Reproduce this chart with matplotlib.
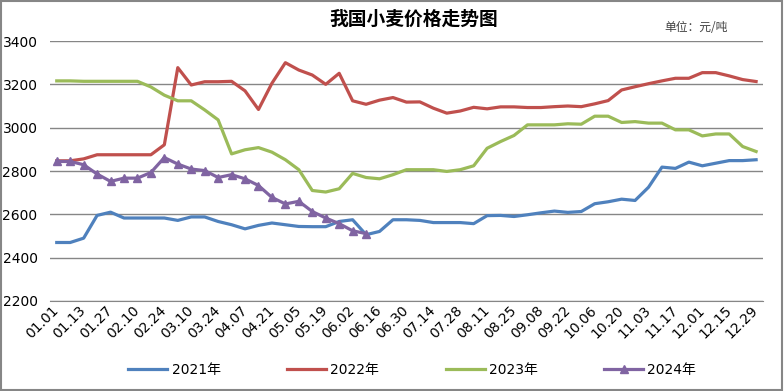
import matplotlib
matplotlib.use('Agg')
import matplotlib.pyplot as plt
from matplotlib.patches import Rectangle

plt.rcParams['font.family'] = ['DejaVu Sans', 'Noto Sans CJK SC']

tick_labels = ['01.01', '01.13', '01.27', '02.10', '02.24', '03.10', '03.24', '04.07', '04.21',
               '05.05', '05.19', '06.02', '06.16', '06.30', '07.14', '07.28', '08.11', '08.25',
               '09.08', '09.22', '10.06', '10.20', '11.03', '11.17', '12.01', '12.15', '12.29']

y2021 = [2470, 2470, 2490, 2595, 2610, 2583, 2583, 2583, 2583, 2572, 2588, 2588, 2567, 2552,
         2533, 2549, 2560, 2552, 2544, 2543, 2543, 2567, 2575, 2506, 2521, 2575, 2575, 2572,
         2562, 2562, 2562, 2557, 2594, 2595, 2590, 2598, 2607, 2615, 2609, 2613, 2649, 2658,
         2670, 2664, 2725, 2818, 2812, 2841, 2824, 2836, 2848, 2848, 2852]
y2022 = [2847, 2847, 2856, 2875, 2875, 2875, 2875, 2875, 2921, 3277, 3197, 3212, 3212, 3214,
         3170, 3084, 3205, 3300, 3266, 3243, 3200, 3251, 3124, 3108, 3127, 3139, 3118, 3119,
         3090, 3067, 3077, 3094, 3087, 3096, 3096, 3093, 3093, 3097, 3100, 3097, 3110, 3125,
         3174, 3189, 3203, 3216, 3228, 3228, 3254, 3254, 3239, 3222, 3213]
y2023 = [3216, 3216, 3214, 3214, 3214, 3214, 3214, 3188, 3150, 3124, 3124, 3082, 3036, 2879,
         2898, 2908, 2887, 2852, 2806, 2710, 2703, 2718, 2789, 2770, 2764, 2783, 2806, 2806,
         2806, 2798, 2806, 2824, 2905, 2936, 2964, 3013, 3013, 3013, 3018, 3016, 3053, 3053,
         3024, 3028, 3021, 3021, 2990, 2990, 2962, 2971, 2971, 2913, 2890]
y2024 = [2844, 2844, 2829, 2786, 2752, 2767, 2767, 2793, 2862, 2832, 2809, 2802, 2770, 2783,
         2764, 2733, 2678, 2648, 2660, 2613, 2583, 2557, 2524, 2511]

fig = plt.figure(figsize=(7.84, 3.91), dpi=100)
ax = fig.add_axes([0.0638, 0.2302, 0.9092, 0.6649])

x = list(range(len(y2021)))
ax.plot(x, y2021, color='#4F81BD', lw=2.3, label='2021年')
ax.plot(x, y2022, color='#C0504D', lw=2.3, label='2022年')
ax.plot(x, y2023, color='#9BBB59', lw=2.3, label='2023年')
ax.plot(range(len(y2024)), y2024, color='#8064A2', lw=2.3, marker='^', ms=5.5,
        label='2024年')

ax.set_xlim(-0.5, len(y2021) - 0.5)
ax.set_ylim(2200, 3400)
ax.set_yticks(range(2200, 3401, 200))
ax.yaxis.grid(True, color='#868686', lw=1)
ax.set_axisbelow(True)
for s in ['left', 'right', 'top']:
    ax.spines[s].set_visible(False)
ax.spines['bottom'].set_color('#868686')
ax.tick_params(axis='y', length=0, pad=9, labelsize=10)
ax.set_xticks(range(0, len(y2021), 2))
ax.set_xticklabels(tick_labels, rotation=45, ha='right', va='center',
                   rotation_mode='anchor', fontsize=10)
ax.tick_params(axis='x', length=0, pad=5)

fig.text(0.528, 0.952, '我国小麦价格走势图', ha='center', va='center', fontsize=13.5,
         fontweight='bold', family=['Noto Sans CJK SC'])
fig.text(0.888, 0.93, '单位：元/吨', ha='center', va='center', fontsize=8.5,
         color='#404040', family=['Noto Sans CJK SC'])

fig.legend(loc='center', bbox_to_anchor=(0.526, 0.054), ncol=4, frameon=False,
           fontsize=10, handlelength=2.8, handletextpad=0.3, columnspacing=4.8)

fig.patches.append(Rectangle((0.001, 0.002), 0.997, 0.996, transform=fig.transFigure,
                             fill=False, edgecolor='#868686', lw=1.5))

fig.savefig('out.png', dpi=100)
